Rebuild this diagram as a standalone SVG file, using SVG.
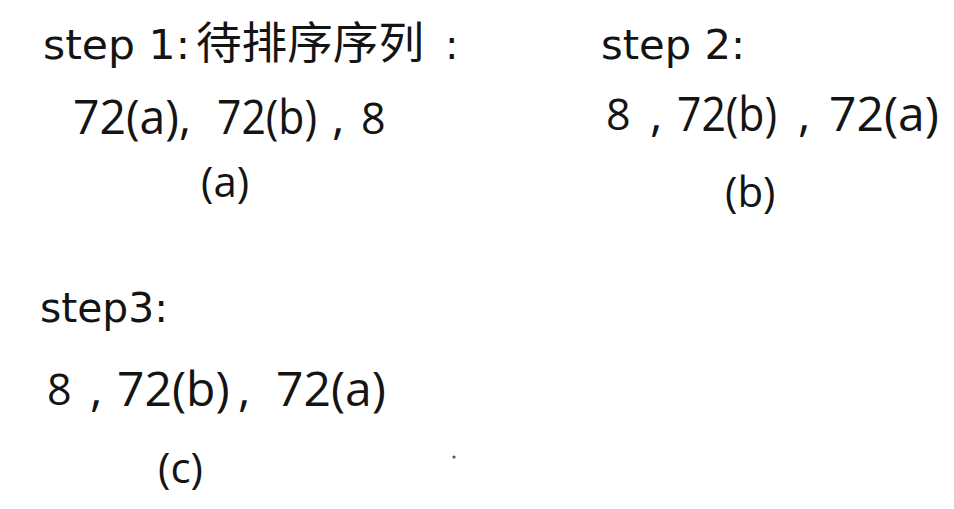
<svg xmlns="http://www.w3.org/2000/svg" width="954" height="509" viewBox="0 0 954 509">
<style>
.lbl{font-family:"DejaVu Sans","Noto Sans CJK SC",sans-serif;font-size:40px;fill:#141414}
.cjk{font-family:"Noto Sans CJK SC","Microsoft YaHei",sans-serif;font-size:44px;fill:#141414}
.seq{font-family:"Open Sans","Liberation Sans",sans-serif;font-size:48px;fill:#141414}
.eight{font-family:"Open Sans","Liberation Sans",sans-serif;font-size:43px;fill:#141414}
.cap{font-family:"Open Sans","Liberation Sans",sans-serif;font-size:42px;fill:#141414}
</style>
<rect width="954" height="509" fill="#ffffff"/>
<g id="step1">
  <text class="lbl" x="43" y="59" textLength="147" lengthAdjust="spacingAndGlyphs">step 1:</text>
  <text class="cjk" x="196" y="59" textLength="228" lengthAdjust="spacingAndGlyphs">待排序序列</text>
  <text class="lbl" x="445" y="59">:</text>
  <text class="seq" x="73" y="134" textLength="118" lengthAdjust="spacingAndGlyphs">72(a),</text>
  <text class="seq" x="217" y="134" textLength="100" lengthAdjust="spacingAndGlyphs">72(b)</text>
  <text class="seq" x="332" y="134">,</text>
  <text class="eight" x="361" y="134">8</text>
  <text class="cap" x="201" y="197">(a)</text>
</g>
<g id="step2">
  <text class="lbl" x="601" y="59" textLength="144" lengthAdjust="spacingAndGlyphs">step 2:</text>
  <text class="eight" x="606" y="130">8</text>
  <text class="seq" x="650" y="131">,</text>
  <text class="seq" x="677" y="131" textLength="100" lengthAdjust="spacingAndGlyphs">72(b)</text>
  <text class="seq" x="798" y="131">,</text>
  <text class="seq" x="829" y="131">72(a)</text>
  <text class="cap" x="725" y="207">(b)</text>
</g>
<g id="step3">
  <text class="lbl" x="40" y="322" textLength="128" lengthAdjust="spacingAndGlyphs">step3:</text>
  <text class="eight" x="47" y="405">8</text>
  <text class="seq" x="90" y="406">,</text>
  <text class="seq" x="117" y="406">72(b)</text>
  <text class="seq" x="238" y="406">,</text>
  <text class="seq" x="276" y="406">72(a)</text>
  <text class="cap" x="158" y="483">(c)</text>
</g>
<g id="connectors"></g>
<circle cx="454" cy="457" r="1.6" fill="#555"/>
</svg>
